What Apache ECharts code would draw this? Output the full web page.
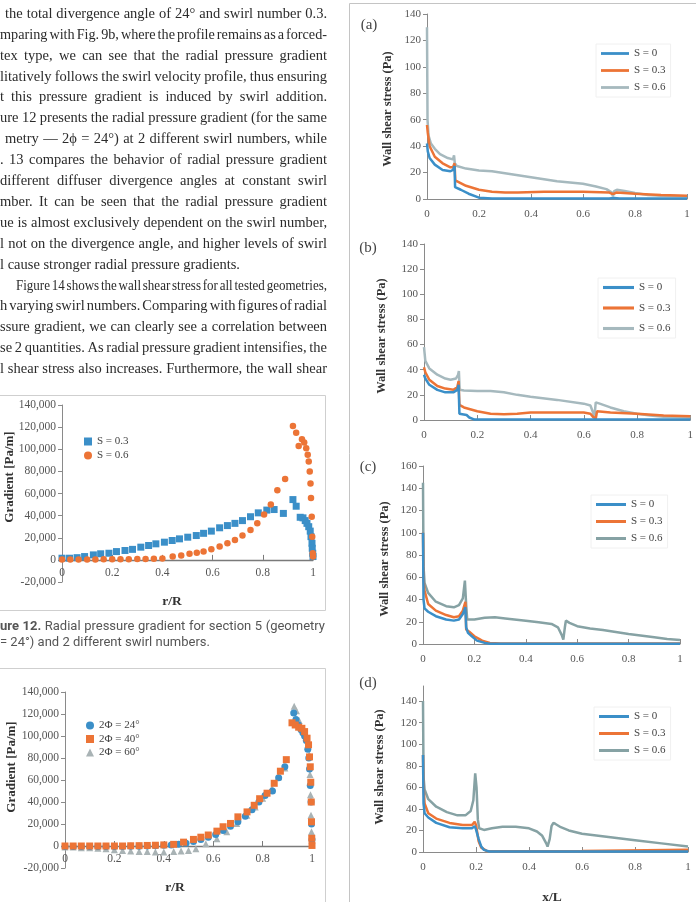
<!DOCTYPE html>
<html>
<head>
<meta charset="utf-8">
<script src="https://cdn.jsdelivr.net/npm/echarts@6/dist/echarts.min.js"></script>
<style>
  html, body { margin: 0; padding: 0; background: #fff; }
  #page { width: 696px; height: 902px; }
</style>
</head>
<body>
<div id="page"></div>
<script>
// ---- data: Figure 12 (radial pressure gradient, r/R vs Pa/m)
var f12_S03 = [[0,1500],[0.03,1500],[0.06,2000],[0.09,3000],[0.125,4500],[0.154,5500],[0.187,6000],[0.217,7500],[0.251,8500],[0.281,9500],[0.314,11500],[0.345,13000],[0.374,14500],[0.408,16000],[0.439,17500],[0.468,19000],[0.501,20500],[0.535,22000],[0.564,24000],[0.595,26000],[0.628,29000],[0.659,31000],[0.689,33000],[0.719,35500],[0.751,39000],[0.782,42500],[0.816,45000],[0.845,45500],[0.882,42000],[0.92,54500],[0.933,48500],[0.949,38500],[0.96,38000],[0.969,35500],[0.976,33000],[0.983,30000],[0.989,26000],[0.992,21000],[0.996,15000],[0.997,10500],[0.999,6000],[1,3000]];
var f12_S06 = [[0,300],[0.033,300],[0.066,300],[0.1,400],[0.133,400],[0.166,500],[0.2,500],[0.233,600],[0.266,600],[0.3,700],[0.333,800],[0.366,1000],[0.4,1200],[0.441,3000],[0.475,4000],[0.508,5500],[0.537,6500],[0.564,7500],[0.595,9500],[0.628,12000],[0.659,15000],[0.689,18000],[0.719,22000],[0.751,27000],[0.778,33000],[0.805,41000],[0.832,50000],[0.858,63000],[0.889,73000],[0.92,121000],[0.933,115000],[0.943,103000],[0.956,109000],[0.965,106000],[0.973,101000],[0.979,95000],[0.983,89000],[0.987,80000],[0.99,69000],[0.992,56000],[0.995,39000],[0.997,21000],[0.999,6000],[1,3000]];

// ---- data: Figure 13 (three divergence angles)
var f13_24 = [[0,-500],[0.033,-500],[0.066,-500],[0.1,-500],[0.133,-500],[0.166,-500],[0.2,-500],[0.233,-500],[0.266,-300],[0.3,-300],[0.333,0],[0.366,300],[0.4,600],[0.43,1000],[0.46,1500],[0.49,2500],[0.52,4000],[0.55,6000],[0.58,8000],[0.61,10500],[0.64,14000],[0.67,18000],[0.7,22000],[0.73,27000],[0.757,33000],[0.785,40000],[0.81,46000],[0.84,50000],[0.865,62000],[0.89,72000],[0.926,121000],[0.935,115000],[0.945,110000],[0.955,106000],[0.963,103000],[0.97,100000],[0.977,96000],[0.983,88000],[0.987,80000],[0.99,70000],[0.993,55000],[0.996,40000],[0.998,20000],[1,6000]];
var f13_40 = [[0,0],[0.033,0],[0.066,0],[0.1,0],[0.133,0],[0.166,0],[0.2,0],[0.233,0],[0.266,200],[0.3,300],[0.333,500],[0.366,700],[0.4,1000],[0.44,1500],[0.48,3500],[0.52,6000],[0.55,8000],[0.58,10000],[0.615,13500],[0.64,17500],[0.67,20500],[0.7,26500],[0.737,31000],[0.766,37000],[0.788,43000],[0.818,48000],[0.847,57000],[0.872,68000],[0.896,78500],[0.919,112000],[0.932,110000],[0.946,108000],[0.959,107000],[0.97,104000],[0.98,98000],[0.986,92000],[0.99,81000],[0.993,72000],[0.995,58000],[0.997,40000],[0.998,22000],[0.999,7000],[1,500]];
var f13_60 = [[0,-1000],[0.033,-1000],[0.066,-1500],[0.1,-1500],[0.133,-2000],[0.166,-2500],[0.2,-3500],[0.233,-4000],[0.266,-4500],[0.3,-5000],[0.333,-5000],[0.366,-5500],[0.4,-5500],[0.44,-5000],[0.47,-4500],[0.5,-4000],[0.53,-2500],[0.57,2000],[0.615,6500],[0.655,13000],[0.695,20500],[0.736,28000],[0.77,35500],[0.8,43500],[0.838,52500],[0.865,63000],[0.89,71000],[0.928,127000],[0.937,123000],[0.948,114000],[0.96,106000],[0.97,103000],[0.978,100000],[0.985,95000],[0.989,83000],[0.992,65000],[0.994,46500],[0.996,28000],[0.998,13000],[1,5000]];

// ---- data: Figure 14 wall shear stress (x/L vs Pa), panels a-d
var wssA_S0 = [[0,42],[0.003,36],[0.01,31],[0.03,26],[0.06,22],[0.09,21],[0.1,22],[0.106,25],[0.108,9],[0.115,10],[0.13,7],[0.16,4],[0.2,1],[0.25,0.3],[0.4,0.3],[0.7,0.3],[0.72,0.8],[0.74,0.3],[1,0.3]];
var wssA_S3 = [[0,56],[0.003,50],[0.01,40],[0.03,32],[0.06,27],[0.09,24],[0.1,24],[0.106,27],[0.109,14],[0.12,13],[0.15,10],[0.2,7],[0.25,5.5],[0.3,5],[0.35,5],[0.45,5.5],[0.6,5.5],[0.7,5],[0.71,4],[0.715,2.5],[0.72,4],[0.73,5],[0.8,4],[0.9,3],[1,2.5]];
var wssA_S6 = [[0,130],[0.002,60],[0.006,48],[0.015,42],[0.03,38],[0.05,34],[0.08,31],[0.1,30],[0.104,33],[0.107,27],[0.115,25],[0.15,23],[0.2,21.5],[0.25,21],[0.3,19.5],[0.35,18],[0.4,16.5],[0.45,15],[0.5,13.5],[0.55,12.5],[0.6,11.5],[0.65,9.5],[0.69,7.5],[0.71,5],[0.715,2],[0.72,6],[0.73,7],[0.76,6],[0.8,4.5],[0.85,3],[0.9,2.5],[1,2]];
var wssB_S0 = [[0,36],[0.005,33],[0.02,28],[0.05,24],[0.08,22],[0.11,22],[0.125,24],[0.13,28],[0.133,5],[0.14,5],[0.16,4],[0.17,2],[0.19,0.3],[0.4,0.3],[0.64,0.3],[1,0.3]];
var wssB_S3 = [[0,42],[0.005,38],[0.02,32],[0.05,27],[0.08,25],[0.11,24],[0.125,26],[0.13,31],[0.133,12],[0.15,10],[0.2,7],[0.25,5],[0.3,4.5],[0.35,5],[0.4,6],[0.5,6],[0.6,6],[0.625,5],[0.635,2.5],[0.645,1],[0.65,7],[0.7,6],[0.8,5],[0.9,3.5],[1,3]];
var wssB_S6 = [[0,58],[0.005,47],[0.02,41],[0.05,36],[0.08,33],[0.1,32],[0.12,33],[0.128,36],[0.131,39],[0.134,24],[0.15,23.5],[0.2,23],[0.25,23],[0.3,22],[0.35,20],[0.4,18.5],[0.5,16],[0.6,13],[0.625,11.5],[0.635,6],[0.64,2],[0.645,14],[0.66,13],[0.7,10],[0.75,7],[0.8,5],[0.85,3.5],[0.9,2.5],[1,2]];
var wssC_S0 = [[0,100],[0.002,40],[0.006,32],[0.02,29],[0.05,25],[0.09,22],[0.12,21],[0.14,22],[0.155,27],[0.165,33],[0.168,15],[0.175,10],[0.19,7],[0.21,3],[0.24,1],[0.26,0.3],[0.5,0.3],[1,0.3]];
var wssC_S3 = [[0,100],[0.002,58],[0.006,48],[0.02,36],[0.05,30],[0.09,26],[0.12,24],[0.14,25],[0.155,30],[0.165,38],[0.168,13],[0.18,11],[0.2,7],[0.23,3],[0.26,1],[0.3,0.5],[1,0.5]];
var wssC_S6 = [[0,145],[0.002,70],[0.006,55],[0.02,46],[0.05,38],[0.09,34],[0.12,33],[0.14,35],[0.155,41],[0.163,57],[0.168,35],[0.172,22],[0.2,22],[0.24,23.5],[0.28,24],[0.32,23],[0.4,21],[0.45,19.5],[0.5,18],[0.525,15],[0.54,8],[0.546,4],[0.552,15],[0.556,21],[0.57,19],[0.6,16],[0.65,14],[0.7,12.5],[0.8,9],[0.9,6],[0.95,4.5],[1,3.5]];
var wssD_S0 = [[0,90],[0.002,45],[0.006,36],[0.02,32],[0.05,27],[0.1,23],[0.15,22],[0.185,22],[0.195,24],[0.2,21],[0.21,12],[0.22,5],[0.23,2],[0.25,0.5],[0.5,0.5],[1,0.5]];
var wssD_S3 = [[0,90],[0.002,62],[0.006,45],[0.02,36],[0.05,31],[0.1,27],[0.15,25],[0.185,25],[0.195,28],[0.2,25],[0.21,10],[0.22,4],[0.24,1],[0.3,0.8],[0.6,1],[1,2]];
var wssD_S6 = [[0,140],[0.002,70],[0.006,58],[0.02,49],[0.05,42],[0.09,37],[0.13,34],[0.16,34],[0.18,38],[0.19,48],[0.197,73],[0.202,60],[0.207,30],[0.212,22],[0.23,20.5],[0.26,22],[0.3,23.5],[0.35,23.5],[0.4,22],[0.43,19],[0.45,15],[0.465,8],[0.47,5],[0.478,12],[0.485,24],[0.492,27],[0.5,26],[0.52,23],[0.55,20],[0.6,17],[0.7,14],[0.8,11],[0.9,8],[1,5]];

// ---- page text
var bodyLines = [
  'the total divergence angle of 24° and swirl number 0.3.',
  'mparing with Fig. 9b, where the profile remains as a forced-',
  'tex type, we can see that the radial pressure gradient',
  'litatively follows the swirl velocity profile, thus ensuring',
  't this pressure gradient is induced by swirl addition.',
  'ure 12 presents the radial pressure gradient (for the same',
  'metry — 2ϕ = 24°) at 2 different swirl numbers, while',
  '. 13 compares the behavior of radial pressure gradient',
  'different diffuser divergence angles at constant swirl',
  'mber. It can be seen that the radial pressure gradient',
  'ue is almost exclusively dependent on the swirl number,',
  'l not on the divergence angle, and higher levels of swirl',
  'l cause stronger radial pressure gradients.',
  'Figure 14 shows the wall shear stress for all tested geometries,',
  'h varying swirl numbers. Comparing with figures of radial',
  'ssure gradient, we can clearly see a correlation between',
  'se 2 quantities. As radial pressure gradient intensifies, the',
  'l shear stress also increases. Furthermore, the wall shear'
];
var captionLines = [
  '*ure *12. Radial pressure gradient for section 5 (geometry',
  '= 24°) and 2 different swirl numbers.'
];

var serif = "'Liberation Serif', serif";
var blue = '#3b8fc8', orange = '#ec7436', grayA = '#a6b9be', grayC = '#86a2a4', grayT = '#a9b3b5';
var axisGray = '#8a8a8a', labelGray = '#555';

// justified text lines, word by word
var mctx = document.createElement('canvas').getContext('2d');
function setLine(str, x0, x1, y, size, family, color, justify, out) {
    var items = str.split(' ').map(function (w) {
        var bold = w.charAt(0) === '*';
        var t = bold ? w.slice(1) : w;
        var font = (bold ? 'bold ' : '') + size + 'px ' + family;
        mctx.font = font;
        return {t: t, font: font, w: mctx.measureText(t).width};
    });
    mctx.font = size + 'px ' + family;
    var space = mctx.measureText(' ').width;
    var sum = 0;
    items.forEach(function (it) { sum += it.w; });
    var n = items.length, gap = space, scale = 1;
    if (justify && n > 1) gap = (x1 - x0 - sum) / (n - 1);
    var minGap = space * 0.55;
    if (gap < minGap) {
        scale = (x1 - x0) / (sum + minGap * (n - 1));
        gap = minGap * scale;
    }
    var x = x0;
    items.forEach(function (it) {
        out.push({
            type: 'text', x: x, y: y, scaleX: scale, silent: true,
            style: {text: it.t, font: it.font, fill: color, textAlign: 'left', textVerticalAlign: 'middle', align: 'left', verticalAlign: 'middle'}
        });
        x += it.w * scale + gap;
    });
}

var graphics = [];
bodyLines.forEach(function (line, i) {
    var x0 = i === 0 || i === 6 ? 5 : (i === 13 ? 16 : 0);
    setLine(line, x0, 327, 14 + i * 20.9, 14.5, serif, '#2b2b2b', i !== 12, graphics);
});
setLine(captionLines[0], 0, 325, 627, 13, 'Roboto', '#555', true, graphics);
setLine(captionLines[1], 0, 325, 643, 13, 'Roboto', '#555', false, graphics);

function txt(s, x, y, font, color, rot) {
    return {
        type: 'text', x: x, y: y, rotation: rot || 0, silent: true,
        style: {text: s, font: font, fill: color, textAlign: 'center', textVerticalAlign: 'middle', align: 'center', verticalAlign: 'middle'}
    };
}
function box(x, y, w, h, c) {
    return {type: 'rect', silent: true, shape: {x: x, y: y, width: w, height: h}, style: {fill: 'none', stroke: c, lineWidth: 1}};
}
graphics.push(box(-5.5, 395.5, 331, 215, '#cfcfcf'));
graphics.push(box(-5.5, 668.5, 331, 250, '#cfcfcf'));
graphics.push(box(349.5, 3.5, 360, 910, '#c4c4c4'));

var titleFont = 'bold 12.5px ' + serif;
graphics.push(txt('Gradient [Pa/m]', 10, 477, 'bold 13px ' + serif, '#333', Math.PI / 2));
graphics.push(txt('Gradient [Pa/m]', 12, 767, 'bold 13px ' + serif, '#333', Math.PI / 2));
graphics.push(txt('r/R', 172, 602, 'bold 13.5px ' + serif, '#333'));
graphics.push(txt('r/R', 175, 888, 'bold 13.5px ' + serif, '#333'));
graphics.push(txt('x/L', 552, 898, 'bold 13.5px ' + serif, '#333'));
graphics.push(txt('Wall shear stress (Pa)', 388, 109, titleFont, '#333', Math.PI / 2));
graphics.push(txt('Wall shear stress (Pa)', 382, 336, titleFont, '#333', Math.PI / 2));
graphics.push(txt('Wall shear stress (Pa)', 385, 559, titleFont, '#333', Math.PI / 2));
graphics.push(txt('Wall shear stress (Pa)', 380, 767, titleFont, '#333', Math.PI / 2));
graphics.push(txt('(a)', 369, 25, '15px ' + serif, '#444'));
graphics.push(txt('(b)', 368, 248, '15px ' + serif, '#444'));
graphics.push(txt('(c)', 368, 467, '15px ' + serif, '#444'));
graphics.push(txt('(d)', 368, 683, '15px ' + serif, '#444'));

// axes
var grids = [
    {left: 62, top: 405, width: 251, height: 177},
    {left: 65, top: 692, width: 247, height: 176},
    {left: 427, top: 14, width: 260, height: 185},
    {left: 424, top: 244, width: 268, height: 176},
    {left: 423, top: 466, width: 257, height: 178},
    {left: 423, top: 686, width: 265, height: 166}
];
var labelStyle = {fontFamily: serif, fontSize: 11, color: labelGray};
var xAxes = [], yAxes = [];
grids.forEach(function (g, k) {
    var scatter = k < 2;
    xAxes.push({
        type: 'value', gridIndex: k, min: 0, max: 1, interval: 0.2,
        // the scatter figures draw their x axis at y = 0 (one of 8 steps up)
        offset: scatter ? -g.height / 8 : 0,
        splitLine: {show: false},
        axisLine: {onZero: false, lineStyle: {color: scatter ? '#7a7a7a' : axisGray, width: scatter ? 1.3 : 1}},
        axisTick: {inside: true, length: 5, lineStyle: {color: scatter ? '#7a7a7a' : axisGray}},
        axisLabel: Object.assign({margin: scatter ? 7 : 10}, labelStyle, {fontSize: scatter ? 11.5 : 11})
    });
    var y = {
        type: 'value', gridIndex: k, splitLine: {show: false},
        axisLine: {show: true, lineStyle: {color: axisGray}},
        axisTick: {show: true, length: 4, lineStyle: {color: axisGray}},
        axisLabel: Object.assign({margin: 6}, labelStyle)
    };
    if (scatter) {
        y.min = -20000; y.max = 140000; y.interval = 20000;
        y.axisLabel.fontSize = 11.5;
        y.axisLabel.formatter = function (v) { return v.toLocaleString('en-US'); };
    } else {
        y.min = 0; y.interval = 20;
        y.max = k === 4 ? 160 : (k === 5 ? 154 : 140);
        y.axisLabel.showMaxLabel = k !== 5;
    }
    yAxes.push(y);
});

function lineSeries(name, data, k, color) {
    return {
        type: 'line', name: name, data: data, xAxisIndex: k, yAxisIndex: k,
        showSymbol: false, symbol: 'none', smooth: false,
        lineStyle: {width: 2.5, color: color}, itemStyle: {color: color}
    };
}
function dots(name, data, k, sym, size, color) {
    return {
        type: 'scatter', name: name, data: data, xAxisIndex: k, yAxisIndex: k,
        symbol: sym, symbolSize: size, itemStyle: {color: color, opacity: 1}
    };
}

var series = [
    dots('S = 0.3', f12_S03, 0, 'rect', 7, blue),
    dots('S = 0.6', f12_S06, 0, 'circle', 6.5, orange),
    dots('2Φ = 60°', f13_60, 1, 'triangle', 7, grayT),
    dots('2Φ = 24°', f13_24, 1, 'circle', 7, blue),
    dots('2Φ = 40°', f13_40, 1, 'rect', 7, orange),
    lineSeries('S = 0.6', wssA_S6, 2, grayA),
    lineSeries('S = 0.3', wssA_S3, 2, orange),
    lineSeries('S = 0', wssA_S0, 2, blue),
    lineSeries('S = 0.6', wssB_S6, 3, grayA),
    lineSeries('S = 0.3', wssB_S3, 3, orange),
    lineSeries('S = 0', wssB_S0, 3, blue),
    lineSeries('S = 0.6', wssC_S6, 4, grayC),
    lineSeries('S = 0.3', wssC_S3, 4, orange),
    lineSeries('S = 0', wssC_S0, 4, blue),
    lineSeries('S = 0.6', wssD_S6, 5, grayC),
    lineSeries('S = 0.3', wssD_S3, 5, orange),
    lineSeries('S = 0', wssD_S0, 5, blue)
];

var legendText = {fontFamily: serif, fontSize: 11, color: '#444'};
function lineLegend(left, top, gap, width, gray) {
    return {
        left: left, top: top, orient: 'vertical', selectedMode: false,
        icon: 'path://M0,0H30V3H0Z', itemWidth: width, itemHeight: 12, itemGap: gap,
        padding: [4, 5], borderColor: '#f0f0f0', borderWidth: 1,
        textStyle: legendText,
        data: [
            {name: 'S = 0', itemStyle: {color: blue}},
            {name: 'S = 0.3', itemStyle: {color: orange}},
            {name: 'S = 0.6', itemStyle: {color: gray}}
        ]
    };
}
var legends = [
    {left: 84, top: 436, orient: 'vertical', selectedMode: false, padding: 0,
     itemWidth: 8, itemHeight: 8, itemGap: 3, textStyle: legendText,
     data: [{name: 'S = 0.3', icon: 'rect', itemStyle: {color: blue}},
            {name: 'S = 0.6', icon: 'circle', itemStyle: {color: orange}}]},
    {left: 86, top: 720, orient: 'vertical', selectedMode: false, padding: 0,
     itemWidth: 8, itemHeight: 8, itemGap: 2.5, textStyle: legendText,
     data: [{name: '2Φ = 24°', icon: 'circle', itemStyle: {color: blue}},
            {name: '2Φ = 40°', icon: 'rect', itemStyle: {color: orange}},
            {name: '2Φ = 60°', icon: 'triangle', itemStyle: {color: grayT}}]},
    lineLegend(596, 44, 6, 28, grayA),
    lineLegend(598, 278, 9.5, 31, grayA),
    lineLegend(591, 495, 6, 30, grayC),
    lineLegend(594, 707, 6, 30, grayC)
];

var myChart = echarts.init(document.getElementById('page'), null, {renderer: 'canvas'});
myChart.setOption({
    animation: false,
    backgroundColor: '#fff',
    grid: grids,
    xAxis: xAxes,
    yAxis: yAxes,
    legend: legends,
    series: series,
    graphic: graphics
});
</script>
</body>
</html>
